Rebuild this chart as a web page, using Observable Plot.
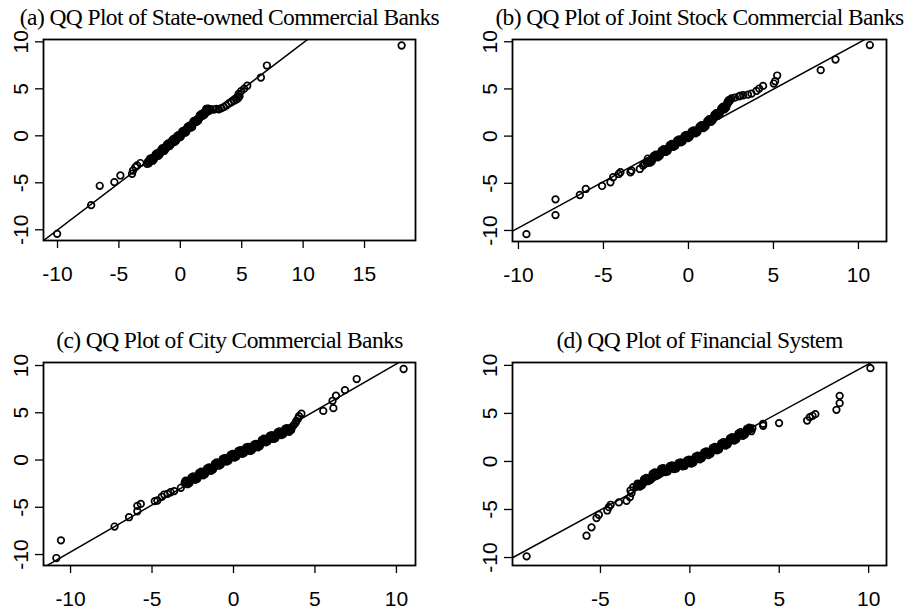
<!DOCTYPE html>
<html><head><meta charset="utf-8">
<script src="https://cdn.jsdelivr.net/npm/d3@7"></script>
<script src="https://cdn.jsdelivr.net/npm/@observablehq/plot@0.6"></script>
<style>
body{margin:0;background:#fff;}
#wrap{position:relative;width:907px;height:609px;background:#fff;overflow:hidden;}
.panel{position:absolute;}
</style></head><body><div id="wrap"></div>
<script>
// ---- titles ----
const titles = [
  "(a) QQ Plot of State-owned Commercial Banks",
  "(b) QQ Plot of Joint Stock Commercial Banks",
  "(c) QQ Plot of City Commercial Banks",
  "(d) QQ Plot of Financial System"
];

// ---- tick labels ----
const xTicksA = [-10, -5, 0, 5, 10, 15];
const xTicksB = [-10, -5, 0, 5, 10];
const xTicksC = [-10, -5, 0, 5, 10];
const xTicksD = [-5, 0, 5, 10];
const yTicks = [-10, -5, 0, 5, 10];

// ---- (a) State-owned Commercial Banks ----
const stateX = [-10.03,-7.26,-6.56,-5.37,-4.88,-3.93,-3.85,-3.66,-3.52,-3.25,
  -2.71,-2.62,-2.50,-2.41,-2.30,-2.18,-2.05,-1.95,-1.83,-1.72,-1.60,-1.50,-1.38,-1.27,-1.15,-1.05,-0.94,-0.83,-0.72,-0.61,-0.50,-0.40,-0.30,-0.20,-0.10,0.00,0.10,0.21,0.32,0.43,0.55,0.66,0.78,0.90,1.02,1.14,1.27,1.40,1.53,1.66,1.80,1.93,2.05,2.17,2.30,2.45,
  -2.56,-2.35,-2.12,-1.89,-1.66,-1.44,-1.21,-0.99,-0.77,-0.55,-0.35,-0.15,0.05,0.26,0.48,0.72,0.96,1.20,1.46,1.72,1.98,2.24,
  -2.45,-2.24,-2.00,-1.78,-1.55,-1.32,-1.10,-0.88,-0.66,-0.45,-0.25,-0.05,0.16,0.37,0.60,0.84,1.08,1.33,1.59,1.85,2.11,2.35,
  -2.58,-2.37,-2.15,-1.93,-1.71,-1.49,-1.27,-1.06,-0.85,-0.64,-0.43,-0.22,-0.01,0.20,0.41,0.63,0.86,1.09,1.33,1.57,1.82,2.07,2.32,
  2.73,2.95,3.14,3.35,3.54,3.75,3.95,4.15,4.36,4.55,4.70,4.82,4.75,4.95,5.20,5.45,6.56,7.05,18.02];
const stateY = [-10.43,-7.38,-5.32,-4.93,-4.22,-4.04,-3.69,-3.33,-3.16,-2.90,
  -2.98,-2.75,-2.70,-2.58,-2.52,-2.38,-2.22,-2.10,-1.99,-1.88,-1.72,-1.62,-1.46,-1.35,-1.22,-1.08,-0.98,-0.84,-0.74,-0.60,-0.50,-0.37,-0.27,-0.14,-0.03,0.08,0.20,0.33,0.45,0.58,0.71,0.86,0.99,1.14,1.30,1.43,1.60,1.76,1.92,2.09,2.28,2.45,2.60,2.72,2.80,2.85,
  -2.92,-2.40,-2.44,-1.84,-1.94,-1.30,-1.44,-0.80,-0.94,-0.34,-0.52,0.06,-0.08,0.52,0.40,1.06,0.92,1.62,1.62,2.34,2.26,2.88,
  -2.42,-2.65,-1.96,-2.14,-1.47,-1.61,-0.95,-1.10,-0.46,-0.63,0.00,-0.17,0.47,0.31,0.98,0.87,1.57,1.48,2.20,2.15,2.86,2.66,
  -2.66,-2.62,-2.28,-2.14,-1.80,-1.66,-1.29,-1.16,-0.81,-0.70,-0.35,-0.23,0.13,0.26,0.62,0.76,1.15,1.32,1.73,1.91,2.36,2.56,2.86,
  2.80,2.86,2.82,2.95,3.06,3.22,3.42,3.56,3.72,3.86,4.00,4.20,4.45,4.75,5.02,5.33,6.20,7.48,9.61];

// ---- (b) Joint Stock Commercial Banks ----
const jointX = [-9.53,-7.82,-7.82,-6.39,-6.04,-5.08,-4.59,-4.43,-4.10,-4.00,-3.41,-3.35,-2.86,-2.67,-2.57,
  -2.45,-2.33,-2.22,-2.10,-1.98,-1.87,-1.75,-1.63,-1.52,-1.40,-1.28,-1.17,-1.05,-0.94,-0.83,-0.72,-0.61,-0.50,-0.40,-0.29,-0.18,-0.08,0.03,0.14,0.25,0.36,0.48,0.59,0.70,0.82,0.94,1.06,1.17,1.28,1.38,1.48,1.58,1.68,1.78,1.88,1.98,2.08,2.17,2.26,2.33,2.40,
  -2.39,-2.16,-1.92,-1.69,-1.46,-1.22,-0.99,-0.77,-0.55,-0.34,-0.13,0.08,0.30,0.53,0.76,1.00,1.22,1.43,1.63,1.83,2.03,2.22,2.37,
  -2.28,-2.04,-1.80,-1.57,-1.34,-1.10,-0.88,-0.66,-0.44,-0.23,-0.02,0.19,0.42,0.65,0.88,1.11,1.33,1.53,1.73,1.93,2.12,2.30,
  -2.40,-2.18,-1.95,-1.72,-1.49,-1.26,-1.03,-0.81,-0.59,-0.37,-0.16,0.06,0.28,0.50,0.73,0.96,1.19,1.40,1.60,1.80,2.00,2.20,2.36,
  2.47,2.53,2.73,2.98,3.06,3.22,3.50,3.71,4.00,4.16,4.39,5.02,5.10,5.22,7.78,8.65,10.67];
const jointY = [-10.39,-6.70,-8.37,-6.24,-5.60,-5.28,-4.89,-4.36,-4.01,-3.83,-3.83,-3.65,-3.48,-3.12,-2.94,
  -2.85,-2.66,-2.55,-2.40,-2.25,-2.12,-1.95,-1.82,-1.70,-1.52,-1.40,-1.26,-1.12,-0.98,-0.86,-0.74,-0.62,-0.50,-0.38,-0.26,-0.14,-0.03,0.08,0.21,0.33,0.46,0.59,0.72,0.86,0.99,1.14,1.31,1.48,1.66,1.82,1.98,2.14,2.30,2.46,2.62,2.80,2.98,3.15,3.32,3.50,3.68,
  -2.38,-2.69,-1.96,-2.10,-1.39,-1.55,-0.83,-1.02,-0.34,-0.54,0.14,-0.08,0.61,0.43,1.15,1.00,1.79,1.68,2.44,2.32,3.11,3.02,3.82,
  -2.82,-2.10,-2.24,-1.53,-1.68,-0.96,-1.14,-0.46,-0.65,0.03,-0.21,0.49,0.30,1.01,0.84,1.60,1.52,2.28,2.16,2.93,2.83,3.63,
  -2.70,-2.58,-2.14,-2.00,-1.59,-1.46,-1.01,-0.92,-0.53,-0.43,-0.04,0.04,0.45,0.53,0.98,1.09,1.59,1.77,2.25,2.41,2.92,3.11,3.66,
  3.85,4.00,4.08,4.22,4.29,4.33,4.40,4.50,4.79,5.04,5.32,5.57,5.82,6.42,6.99,8.12,9.65];

// ---- (c) City Commercial Banks ----
const cityX = [-10.87,-10.59,-7.30,-6.41,-5.90,-5.90,-5.69,-4.83,-4.67,-4.40,-4.25,-4.05,-3.86,-3.64,-3.23,
  -3.00,-2.88,-2.76,-2.64,-2.52,-2.40,-2.28,-2.16,-2.04,-1.92,-1.80,-1.68,-1.56,-1.44,-1.32,-1.20,-1.08,-0.96,-0.84,-0.72,-0.60,-0.48,-0.36,-0.24,-0.12,0.00,0.12,0.24,0.36,0.48,0.60,0.72,0.84,0.96,1.08,1.20,1.32,1.44,1.56,1.68,1.80,1.92,2.04,2.16,2.28,2.40,2.52,2.64,2.76,2.88,3.00,3.12,3.24,3.36,3.48,3.60,3.70,
  -2.94,-2.70,-2.46,-2.22,-1.98,-1.74,-1.50,-1.26,-1.02,-0.78,-0.54,-0.30,-0.06,0.18,0.42,0.66,0.90,1.14,1.38,1.62,1.86,2.10,2.34,2.58,2.82,3.06,3.30,3.54,
  -2.82,-2.58,-2.34,-2.10,-1.86,-1.62,-1.38,-1.14,-0.90,-0.66,-0.42,-0.18,0.06,0.30,0.54,0.78,1.02,1.26,1.50,1.74,1.98,2.22,2.46,2.70,2.94,3.18,3.42,
  -2.97,-2.73,-2.49,-2.25,-2.01,-1.77,-1.53,-1.29,-1.05,-0.81,-0.57,-0.33,-0.09,0.15,0.39,0.63,0.87,1.11,1.35,1.59,1.83,2.07,2.31,2.55,2.79,3.03,3.27,3.51,
  3.80,3.86,3.97,4.02,4.17,5.51,6.13,6.08,6.29,6.84,7.56,10.44];
const cityY = [-10.37,-8.50,-7.04,-6.05,-5.42,-4.85,-4.64,-4.35,-4.28,-3.89,-3.65,-3.58,-3.41,-3.29,-2.94,
  -2.45,-2.36,-2.27,-2.12,-2.03,-1.90,-1.80,-1.66,-1.55,-1.42,-1.30,-1.18,-1.07,-0.95,-0.84,-0.71,-0.55,-0.40,-0.30,-0.20,-0.08,0.03,0.14,0.24,0.35,0.45,0.55,0.66,0.76,0.86,0.96,1.06,1.12,1.18,1.24,1.34,1.44,1.53,1.66,1.80,1.95,2.07,2.17,2.28,2.35,2.43,2.52,2.62,2.74,2.85,2.95,3.03,3.10,3.18,3.30,3.50,3.70,
  -2.18,-2.44,-1.72,-1.98,-1.24,-1.48,-0.78,-1.02,-0.24,-0.49,0.21,-0.05,0.64,0.36,1.05,0.77,1.39,1.05,1.72,1.49,2.25,1.98,2.63,2.33,3.04,2.75,3.38,3.16,
  -2.56,-1.84,-2.10,-1.35,-1.61,-0.89,-1.14,-0.38,-0.60,0.11,-0.16,0.55,0.25,0.96,0.66,1.34,0.96,1.62,1.35,2.12,1.87,2.56,2.23,2.93,2.65,3.31,2.99,
  -2.35,-2.32,-1.92,-1.85,-1.44,-1.35,-0.96,-0.89,-0.43,-0.35,0.03,0.09,0.46,0.50,0.86,0.90,1.21,1.19,1.54,1.62,2.07,2.12,2.45,2.47,2.85,2.89,3.20,3.27,
  3.90,4.14,4.40,4.65,4.90,5.20,5.49,6.27,6.80,7.40,8.57,9.63];

// ---- (d) Financial System ----
const finX = [-9.13,-5.78,-5.50,-5.22,-5.09,-4.62,-4.53,-4.43,-3.97,-3.54,-3.35,-3.26,-3.32,-3.17,
  -2.98,-2.86,-2.74,-2.62,-2.50,-2.38,-2.26,-2.14,-2.02,-1.90,-1.78,-1.66,-1.54,-1.42,-1.30,-1.18,-1.06,-0.94,-0.82,-0.70,-0.58,-0.46,-0.34,-0.22,-0.10,0.02,0.14,0.26,0.38,0.50,0.62,0.74,0.86,0.98,1.10,1.22,1.34,1.46,1.58,1.70,1.82,1.94,2.06,2.18,2.30,2.42,2.54,2.66,2.78,2.90,3.02,3.14,3.26,3.38,3.50,
  -2.92,-2.68,-2.44,-2.20,-1.96,-1.72,-1.48,-1.24,-1.00,-0.76,-0.52,-0.28,-0.04,0.20,0.44,0.68,0.92,1.16,1.40,1.64,1.88,2.12,2.36,2.60,2.84,3.08,3.32,
  -2.80,-2.56,-2.32,-2.08,-1.84,-1.60,-1.36,-1.12,-0.88,-0.64,-0.40,-0.16,0.08,0.32,0.56,0.80,1.04,1.28,1.52,1.76,2.00,2.24,2.48,2.72,2.96,3.20,3.44,
  -2.95,-2.71,-2.47,-2.23,-1.99,-1.75,-1.51,-1.27,-1.03,-0.79,-0.55,-0.31,-0.07,0.17,0.41,0.65,0.89,1.13,1.37,1.61,1.85,2.09,2.33,2.57,2.81,3.05,3.29,
  4.10,4.10,4.99,6.56,6.71,6.86,7.02,8.20,8.38,8.38,10.10];
const finY = [-9.88,-7.73,-6.86,-5.89,-5.55,-5.10,-4.75,-4.51,-4.26,-4.09,-3.71,-3.29,-3.02,-2.67,
  -2.60,-2.45,-2.31,-2.17,-2.02,-1.88,-1.74,-1.60,-1.46,-1.32,-1.16,-1.04,-0.97,-0.90,-0.83,-0.76,-0.68,-0.60,-0.52,-0.45,-0.37,-0.30,-0.23,-0.16,-0.10,-0.04,0.08,0.20,0.31,0.43,0.54,0.65,0.76,0.87,0.98,1.10,1.22,1.35,1.47,1.58,1.72,1.85,1.98,2.10,2.23,2.36,2.48,2.61,2.73,2.86,2.98,3.10,3.22,3.35,3.45,
  -2.30,-2.49,-1.72,-1.92,-1.15,-1.35,-0.69,-1.04,-0.40,-0.73,-0.10,-0.45,0.18,-0.11,0.61,0.35,1.05,0.79,1.52,1.27,2.02,1.79,2.53,2.30,3.04,2.79,3.52,
  -2.62,-1.85,-2.05,-1.28,-1.48,-0.76,-1.10,-0.48,-0.80,-0.17,-0.51,0.11,-0.22,0.49,0.23,0.94,0.67,1.40,1.16,1.89,1.66,2.40,2.17,2.91,2.67,3.40,3.15,
  -2.48,-2.36,-1.91,-1.78,-1.34,-1.21,-0.87,-0.89,-0.58,-0.58,-0.27,-0.29,0.00,0.03,0.42,0.49,0.87,0.93,1.33,1.41,1.83,1.93,2.34,2.44,2.85,2.93,3.33,
  3.71,3.92,3.99,4.26,4.61,4.75,4.92,5.37,6.07,6.83,9.71];

// ---- reference lines (slope, intercept) ----
const lineSlopes = [0.995, 0.98, 0.995, 1.0125];
const lineIntercepts = [-0.06, 0.07, 0.22, 0.02];

const seriesX = [stateX, jointX, cityX, finX];
const seriesY = [stateY, jointY, cityY, finY];
const xTickSets = [xTicksA, xTicksB, xTicksC, xTicksD];

// layout (px) for each panel
const layout = [
  {left:0,   top:0,   width:453, height:300, mt:39, mr:38, mb:60, ml:43, xd:[-11.14,19.15], yd:[-11.14,10.25]},
  {left:453, top:0,   width:454, height:300, mt:39, mr:21, mb:59, ml:59, xd:[-10.35,11.65], yd:[-11.17,10.24]},
  {left:0,   top:300, width:453, height:309, mt:62, mr:38, mb:44, ml:43, xd:[-11.66,11.17], yd:[-11.16,10.32]},
  {left:453, top:300, width:454, height:309, mt:62, mr:21, mb:44, ml:59, xd:[-9.92,11.0],   yd:[-10.83,10.30]}
];

const wrap = document.getElementById("wrap");
const fmt = d => String(d);

layout.forEach((L, i) => {
  const pts = seriesX[i].map((x, j) => ({x, y: seriesY[i][j]}));
  const ln = L.xd.map(x => ({x, y: lineSlopes[i] * x + lineIntercepts[i]}));
  const chart = Plot.plot({
    width: L.width, height: L.height,
    marginTop: L.mt, marginRight: L.mr, marginBottom: L.mb, marginLeft: L.ml,
    x: {domain: L.xd, label: null},
    y: {domain: L.yd, label: null},
    style: {fontFamily: "'Liberation Sans', Arial, sans-serif", color: "#000", background: "transparent", overflow: "visible"},
    marks: [
      Plot.axisX({ticks: xTickSets[i], tickSize: 8, tickPadding: 18, fontSize: 21, tickFormat: fmt, label: null, strokeWidth: 1.3}),
      Plot.axisY({ticks: yTicks, tickSize: 8, tickFormat: () => "", label: null, strokeWidth: 1.3}),
      Plot.text(yTicks, {y: d => d, text: fmt, frameAnchor: "left", dx: -16, rotate: -90, textAnchor: "middle", lineAnchor: "bottom", fontSize: 21}),
      Plot.line(ln, {x: "x", y: "y", stroke: "#000", strokeWidth: 1.5, clip: true}),
      Plot.dot(pts, {x: "x", y: "y", r: 3.3, stroke: "#000", strokeWidth: 1.7, fill: "none"}),
      Plot.frame({stroke: "#000", strokeWidth: 1.8}),
      Plot.text([titles[i]], {frameAnchor: "top", lineAnchor: "bottom", dy: -15, fontSize: 23.5, fontFamily: "'Liberation Serif', 'Times New Roman', serif"})
    ]
  });
  // tighten title letter spacing (serif title in reference is condensed)
  const textGroups = chart.querySelectorAll('g[aria-label="text"]');
  const titleGroup = textGroups[textGroups.length - 1];
  titleGroup.querySelectorAll("text").forEach(t => t.setAttribute("letter-spacing", "-0.6"));
  chart.classList.add("panel");
  chart.style.left = L.left + "px";
  chart.style.top = L.top + "px";
  wrap.appendChild(chart);
});
</script>
</body></html>
